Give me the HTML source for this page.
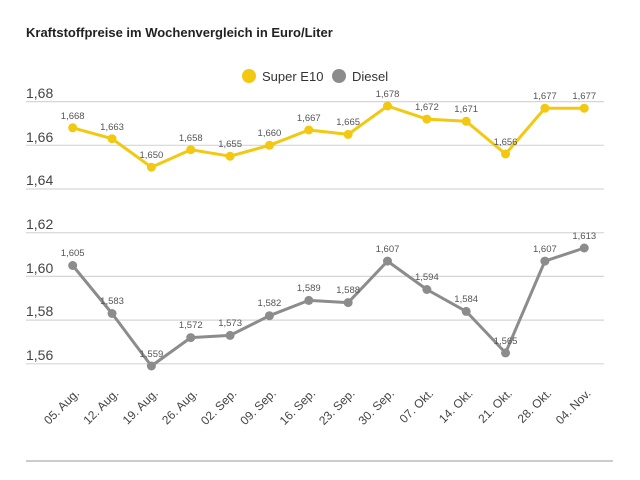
<!DOCTYPE html>
<html><head><meta charset="utf-8"><style>
body{margin:0;background:#fff;}
svg{display:block;font-family:"Liberation Sans",sans-serif;}
</style></head><body>
<svg width="640" height="480" viewBox="0 0 640 480">
<text x="26" y="37" font-size="13" font-weight="bold" fill="#222">Kraftstoffpreise im Wochenvergleich in Euro/Liter</text>
<circle cx="249" cy="76" r="7" fill="#f2c811"/>
<text x="262" y="81" font-size="13" fill="#333">Super E10</text>
<circle cx="339" cy="76" r="7" fill="#8c8c8c"/>
<text x="352" y="81" font-size="13" fill="#333">Diesel</text>
<g stroke="#d6d6d6" stroke-width="1.2">
<line x1="26" x2="604" y1="101.6" y2="101.6"/>
<line x1="26" x2="604" y1="145.3" y2="145.3"/>
<line x1="26" x2="604" y1="189" y2="189"/>
<line x1="26" x2="604" y1="232.7" y2="232.7"/>
<line x1="26" x2="604" y1="276.4" y2="276.4"/>
<line x1="26" x2="604" y1="320.1" y2="320.1"/>
<line x1="26" x2="604" y1="363.8" y2="363.8"/>
</g>
<line x1="26" x2="613" y1="461" y2="461" stroke="#ccc" stroke-width="2"/>
<g font-size="14" fill="#444">
<text x="26" y="98">1,68</text>
<text x="26" y="142">1,66</text>
<text x="26" y="185">1,64</text>
<text x="26" y="229">1,62</text>
<text x="26" y="273">1,60</text>
<text x="26" y="316">1,58</text>
<text x="26" y="360">1,56</text>
</g>
<polyline fill="none" stroke="#f2c811" stroke-width="3" stroke-linejoin="round" points="72.7,127.8 112.05,138.7 151.4,167.2 190.75,149.7 230.1,156.2 269.45,145.3 308.8,130 348.15,134.4 387.5,106 426.85,119.1 466.2,121.3 505.55,154 544.9,108.2 584.25,108.2"/>
<polyline fill="none" stroke="#8c8c8c" stroke-width="3" stroke-linejoin="round" points="72.7,265.5 112.05,313.5 151.4,366 190.75,337.6 230.1,335.4 269.45,315.7 308.8,300.4 348.15,302.6 387.5,261.1 426.85,289.5 466.2,311.4 505.55,352.9 544.9,261.1 584.25,248"/>
<g fill="#f2c811">
<circle cx="72.7" cy="127.8" r="4.5"/><circle cx="112.05" cy="138.7" r="4.5"/><circle cx="151.4" cy="167.2" r="4.5"/><circle cx="190.75" cy="149.7" r="4.5"/><circle cx="230.1" cy="156.2" r="4.5"/><circle cx="269.45" cy="145.3" r="4.5"/><circle cx="308.8" cy="130" r="4.5"/><circle cx="348.15" cy="134.4" r="4.5"/><circle cx="387.5" cy="106" r="4.5"/><circle cx="426.85" cy="119.1" r="4.5"/><circle cx="466.2" cy="121.3" r="4.5"/><circle cx="505.55" cy="154" r="4.5"/><circle cx="544.9" cy="108.2" r="4.5"/><circle cx="584.25" cy="108.2" r="4.5"/>
</g>
<g fill="#8c8c8c">
<circle cx="72.7" cy="265.5" r="4.5"/><circle cx="112.05" cy="313.5" r="4.5"/><circle cx="151.4" cy="366" r="4.5"/><circle cx="190.75" cy="337.6" r="4.5"/><circle cx="230.1" cy="335.4" r="4.5"/><circle cx="269.45" cy="315.7" r="4.5"/><circle cx="308.8" cy="300.4" r="4.5"/><circle cx="348.15" cy="302.6" r="4.5"/><circle cx="387.5" cy="261.1" r="4.5"/><circle cx="426.85" cy="289.5" r="4.5"/><circle cx="466.2" cy="311.4" r="4.5"/><circle cx="505.55" cy="352.9" r="4.5"/><circle cx="544.9" cy="261.1" r="4.5"/><circle cx="584.25" cy="248" r="4.5"/>
</g>
<g font-size="9.5" fill="#555" text-anchor="middle">
<text x="72.7" y="119">1,668</text><text x="112.05" y="130">1,663</text><text x="151.4" y="158">1,650</text><text x="190.75" y="141">1,658</text><text x="230.1" y="147">1,655</text><text x="269.45" y="136">1,660</text><text x="308.8" y="121">1,667</text><text x="348.15" y="125">1,665</text><text x="387.5" y="97">1,678</text><text x="426.85" y="110">1,672</text><text x="466.2" y="112">1,671</text><text x="505.55" y="145">1,656</text><text x="544.9" y="99">1,677</text><text x="584.25" y="99">1,677</text>
<text x="72.7" y="256">1,605</text><text x="112.05" y="304">1,583</text><text x="151.4" y="357">1,559</text><text x="190.75" y="328">1,572</text><text x="230.1" y="326">1,573</text><text x="269.45" y="306">1,582</text><text x="308.8" y="291">1,589</text><text x="348.15" y="293">1,588</text><text x="387.5" y="252">1,607</text><text x="426.85" y="280">1,594</text><text x="466.2" y="302">1,584</text><text x="505.55" y="344">1,565</text><text x="544.9" y="252">1,607</text><text x="584.25" y="239">1,613</text>
</g>
<g font-size="12" fill="#444" text-anchor="end">
<text transform="translate(80,394) rotate(-45)">05. Aug.</text>
<text transform="translate(119.35,394) rotate(-45)">12. Aug.</text>
<text transform="translate(158.7,394) rotate(-45)">19. Aug.</text>
<text transform="translate(198.05,394) rotate(-45)">26. Aug.</text>
<text transform="translate(237.4,394) rotate(-45)">02. Sep.</text>
<text transform="translate(276.75,394) rotate(-45)">09. Sep.</text>
<text transform="translate(316.1,394) rotate(-45)">16. Sep.</text>
<text transform="translate(355.45,394) rotate(-45)">23. Sep.</text>
<text transform="translate(394.8,394) rotate(-45)">30. Sep.</text>
<text transform="translate(434.15,394) rotate(-45)">07. Okt.</text>
<text transform="translate(473.5,394) rotate(-45)">14. Okt.</text>
<text transform="translate(512.85,394) rotate(-45)">21. Okt.</text>
<text transform="translate(552.2,394) rotate(-45)">28. Okt.</text>
<text transform="translate(591.55,394) rotate(-45)">04. Nov.</text>
</g>
</svg>
</body></html>
